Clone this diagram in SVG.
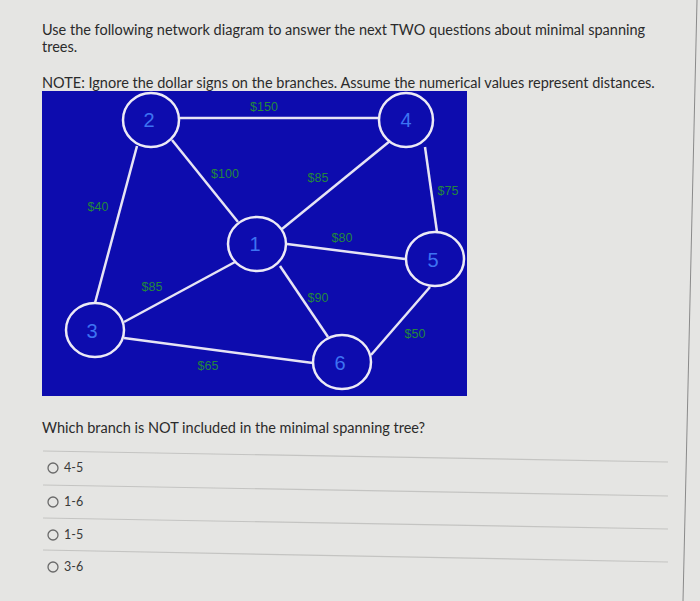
<svg xmlns="http://www.w3.org/2000/svg" width="700" height="601" viewBox="0 0 700 601">
<style>
.txt{font-family:Lato,"Open Sans",sans-serif;font-size:14.5px;fill:#2b2b2b}
.opt{font-family:Lato,"Open Sans",sans-serif;font-size:12.5px;fill:#3a3a3a}
.edge{stroke:#e6e4f4;stroke-width:2.5;fill:none}
.node ellipse{fill:#0d0cae;stroke:#eceaf6;stroke-width:2.5}
.node text{font-family:"Liberation Sans",Arial,sans-serif;font-size:20px;fill:#3d73f2;text-anchor:middle}
.lbl{font-family:"Liberation Sans",Arial,sans-serif;font-size:12.5px;fill:#22883c;text-anchor:middle}
.sep{stroke:#c4c4c2;stroke-width:1.2}
.radio{fill:none;stroke:#6a6a6a;stroke-width:1.3}
</style>
<rect width="700" height="601" fill="#e5e5e3"/>
<line x1="697" y1="0" x2="683" y2="601" stroke="#8a8a8a" stroke-width="1"/>
<text class="txt" x="42" y="35">Use the following network diagram to answer the next TWO questions about minimal spanning</text>
<text class="txt" x="42" y="52">trees.</text>
<text class="txt" x="42" y="88">NOTE: Ignore the dollar signs on the branches. Assume the numerical values represent distances.</text>
<rect x="42" y="91" width="425" height="305" fill="#0d0cae"/>
<g id="connectors">
<line class="edge" x1="180" y1="118" x2="380" y2="118"/>
<line class="edge" x1="137" y1="146" x2="95" y2="303"/>
<line class="edge" x1="172" y1="140" x2="238" y2="222"/>
<line class="edge" x1="390" y1="141" x2="282" y2="229"/>
<line class="edge" x1="425" y1="147" x2="437" y2="232"/>
<line class="edge" x1="287" y1="244" x2="405" y2="259"/>
<line class="edge" x1="235" y1="262" x2="124" y2="322"/>
<line class="edge" x1="280" y1="266" x2="328" y2="337"/>
<line class="edge" x1="124" y1="338" x2="313" y2="363"/>
<line class="edge" x1="430" y1="287" x2="371" y2="355"/>
<text class="lbl" x="264" y="111">$150</text>
<text class="lbl" x="225" y="178">$100</text>
<text class="lbl" x="318" y="182">$85</text>
<text class="lbl" x="448" y="195">$75</text>
<text class="lbl" x="98" y="211">$40</text>
<text class="lbl" x="342" y="242">$80</text>
<text class="lbl" x="152" y="291">$85</text>
<text class="lbl" x="318" y="302">$90</text>
<text class="lbl" x="415" y="338">$50</text>
<text class="lbl" x="208" y="370">$65</text>
</g>
<g id="node2" class="node"><ellipse cx="151" cy="120" rx="28" ry="27"/><text x="149" y="127">2</text></g>
<g id="node4" class="node"><ellipse cx="406" cy="120" rx="27" ry="27"/><text x="406" y="127">4</text></g>
<g id="node1" class="node"><ellipse cx="257" cy="244" rx="29" ry="27"/><text x="255" y="251">1</text></g>
<g id="node5" class="node"><ellipse cx="435" cy="259" rx="29" ry="27"/><text x="433" y="267">5</text></g>
<g id="node3" class="node"><ellipse cx="95" cy="330" rx="29" ry="27"/><text x="92" y="338">3</text></g>
<g id="node6" class="node"><ellipse cx="342" cy="362" rx="29" ry="27"/><text x="340" y="370">6</text></g>
<text class="txt" x="42" y="433">Which branch is NOT included in the minimal spanning tree?</text>
<line class="sep" x1="43" y1="451" x2="668" y2="462"/>
<line class="sep" x1="43" y1="485" x2="668" y2="496"/>
<line class="sep" x1="43" y1="518" x2="668" y2="529"/>
<line class="sep" x1="43" y1="550" x2="668" y2="562"/>
<circle class="radio" cx="53" cy="468" r="5"/>
<text class="opt" x="64" y="472">4-5</text>
<circle class="radio" cx="53" cy="502" r="5"/>
<text class="opt" x="64" y="506">1-6</text>
<circle class="radio" cx="53" cy="535" r="5"/>
<text class="opt" x="64" y="539">1-5</text>
<circle class="radio" cx="53" cy="567" r="5"/>
<text class="opt" x="64" y="571">3-6</text>
</svg>
